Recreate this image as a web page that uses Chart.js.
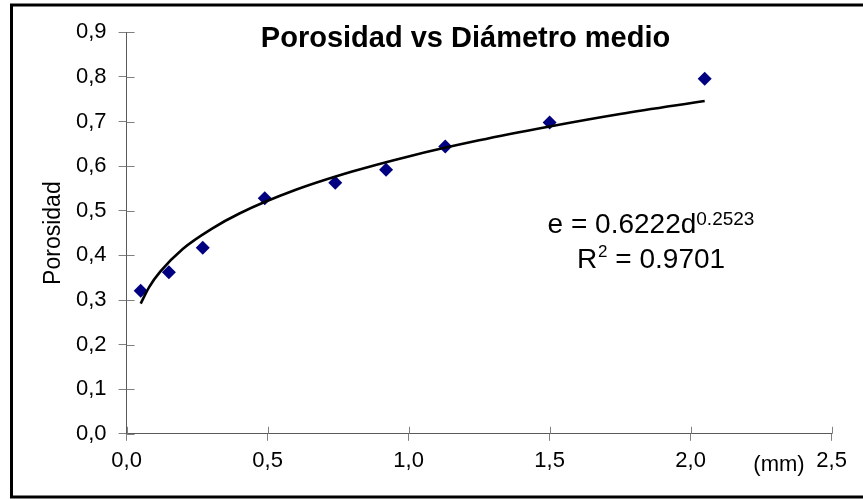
<!DOCTYPE html>
<html>
<head>
<meta charset="utf-8">
<script src="https://cdn.jsdelivr.net/npm/chart.js@4.4.1/dist/chart.umd.min.js"></script>
<style>
  html, body { margin: 0; padding: 0; background: #ffffff; }
  #wrap { width: 863px; height: 499px; }
</style>
</head>
<body>
<div id="wrap"><canvas id="c" width="863" height="499"></canvas></div>
<script>
// ---- data ----
const diametro = [0.05, 0.15, 0.27, 0.49, 0.74, 0.92, 1.13, 1.50, 2.05];
const porosidad = [0.321, 0.362, 0.417, 0.528, 0.563, 0.592, 0.644, 0.698, 0.796];

// trend curve
const curvaX = [0.05, 0.08, 0.12, 0.20, 0.30, 0.40, 0.60, 0.80, 1.00, 1.25, 1.50, 1.75, 2.05];
const curvaY = [0.292, 0.329, 0.364, 0.415, 0.459, 0.494, 0.547, 0.588, 0.622, 0.658, 0.689, 0.717, 0.746];

// texts
const tituloTexto = 'Porosidad vs Diámetro medio';
const ejeYTexto = 'Porosidad';
const ejeXTexto = '(mm)';
const ecuacionBase = 'e = 0.6222d';
const ecuacionExp = '0.2523';
const r2Base = 'R';
const r2Exp = '2';
const r2Resto = ' = 0.9701';

// tick ranges
const xMin = 0, xMax = 2.5, xPaso = 0.5;
const yMin = 0, yMax = 0.9, yPaso = 0.1;

const FONT = "'Liberation Sans', Arial, sans-serif";

const puntos = diametro.map((d, i) => ({ x: d, y: porosidad[i] }));
const curva = curvaX.map((d, i) => ({ x: d, y: curvaY[i] }));

const coma = v => Number(v).toFixed(1).replace('.', ',');

const decor = {
  id: 'decor',
  beforeDraw(chart) {
    const ctx = chart.ctx;
    ctx.save();
    ctx.fillStyle = '#ffffff';
    ctx.fillRect(0, 0, chart.width, chart.height);
    ctx.restore();
  },
  afterDraw(chart) {
    const ctx = chart.ctx;
    const area = chart.chartArea;
    ctx.save();
    // inner halves of tick marks (ticks cross the axes)
    ctx.strokeStyle = '#808080';
    ctx.lineWidth = 1;
    const ys = chart.scales.y;
    ys.ticks.forEach((t, i) => {
      const p = Math.round(ys.getPixelForTick(i)) + 0.5;
      ctx.beginPath();
      ctx.moveTo(area.left, p);
      ctx.lineTo(area.left + 8, p);
      ctx.stroke();
    });
    const xs = chart.scales.x;
    xs.ticks.forEach((t, i) => {
      const p = Math.round(xs.getPixelForTick(i)) + 0.5;
      ctx.beginPath();
      ctx.moveTo(p, area.bottom);
      ctx.lineTo(p, area.bottom - 7);
      ctx.stroke();
    });

    ctx.fillStyle = '#000000';
    ctx.textBaseline = 'alphabetic';
    // title
    ctx.font = 'bold 29px ' + FONT;
    ctx.textAlign = 'center';
    ctx.fillText(tituloTexto, 465.5, 47);

    // x unit
    ctx.font = '22px ' + FONT;
    ctx.fillText(ejeXTexto, 779, 471);

    // equation line 1
    ctx.textAlign = 'left';
    ctx.font = '28px ' + FONT;
    const w1 = ctx.measureText(ecuacionBase).width;
    ctx.font = '19px ' + FONT;
    const w2 = ctx.measureText(ecuacionExp).width;
    let x0 = 651 - (w1 + w2) / 2;
    ctx.font = '28px ' + FONT;
    ctx.fillText(ecuacionBase, x0, 233);
    ctx.font = '19px ' + FONT;
    ctx.fillText(ecuacionExp, x0 + w1, 225);

    // equation line 2
    ctx.font = '28px ' + FONT;
    const r1 = ctx.measureText(r2Base).width;
    const r3 = ctx.measureText(r2Resto).width;
    ctx.font = '17px ' + FONT;
    const r2 = ctx.measureText(r2Exp).width;
    x0 = 650.5 - (r1 + r2 + r3) / 2;
    ctx.font = '28px ' + FONT;
    ctx.fillText(r2Base, x0, 268);
    ctx.font = '17px ' + FONT;
    ctx.fillText(r2Exp, x0 + r1 + 1, 257);
    ctx.font = '28px ' + FONT;
    ctx.fillText(r2Resto, x0 + r1 + r2 + 1, 268);

    // outer frame
    ctx.strokeStyle = '#000000';
    ctx.lineWidth = 3;
    ctx.strokeRect(11.5, 5, 870, 492);
    ctx.restore();
  }
};

new Chart(document.getElementById('c'), {
  type: 'scatter',
  data: {
    datasets: [
      {
        label: 'Tendencia',
        data: curva,
        showLine: true,
        borderColor: '#000000',
        borderWidth: 2.6,
        pointRadius: 0,
        cubicInterpolationMode: 'monotone',
        fill: false
      },
      {
        label: 'Porosidad',
        data: puntos,
        pointStyle: 'rectRot',
        pointRadius: 7,
        pointHoverRadius: 7,
        backgroundColor: '#000080',
        borderColor: '#000080',
        borderWidth: 0
      }
    ]
  },
  options: {
    responsive: false,
    animation: false,
    devicePixelRatio: 1,
    layout: { padding: { left: 14, right: 31.4, top: 32.4, bottom: 0 } },
    plugins: {
      legend: { display: false },
      tooltip: { enabled: false },
      title: { display: false }
    },
    scales: {
      x: {
        type: 'linear',
        min: xMin, max: xMax,
        afterFit(s) { s.height = 65.2; },
        ticks: {
          stepSize: xPaso,
          callback: v => coma(v),
          color: '#000000',
          font: { family: FONT, size: 22 },
          padding: 7,
          maxRotation: 0
        },
        grid: { drawOnChartArea: false, tickLength: 7, color: '#808080', tickColor: '#808080' },
        border: { display: true, color: '#5a5a5a', width: 1 }
      },
      y: {
        type: 'linear',
        min: yMin, max: yMax,
        afterFit(s) { s.width = 112.6; },
        ticks: {
          stepSize: yPaso,
          callback: v => coma(v),
          color: '#000000',
          font: { family: FONT, size: 22 },
          padding: 12
        },
        title: {
          display: true,
          text: ejeYTexto,
          color: '#000000',
          font: { family: FONT, size: 23 },
          padding: { top: 26, bottom: 0 }
        },
        grid: { drawOnChartArea: false, tickLength: 8, color: '#808080', tickColor: '#808080' },
        border: { display: true, color: '#5a5a5a', width: 1 }
      }
    }
  },
  plugins: [decor]
});
</script>
</body>
</html>
